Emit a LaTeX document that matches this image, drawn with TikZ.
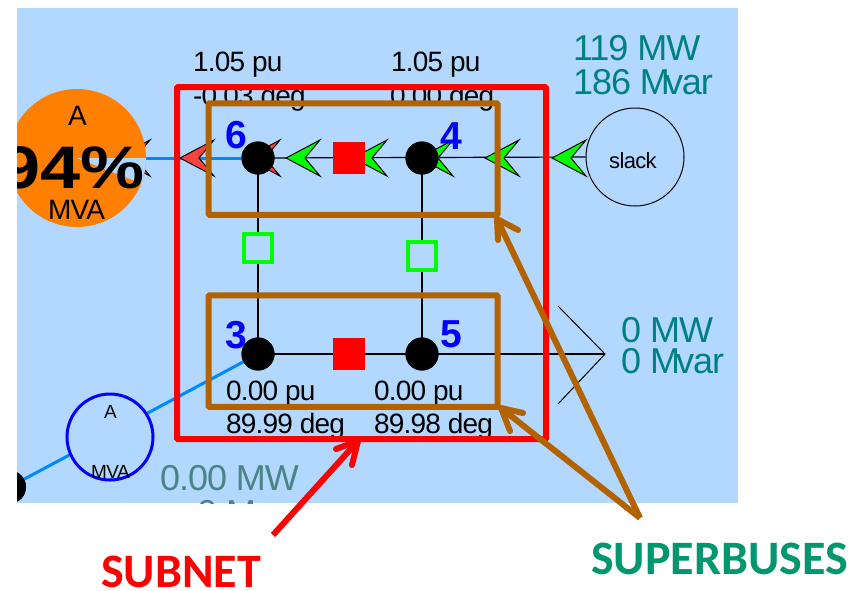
\documentclass[tikz,border=0pt]{standalone}
\usepackage{graphicx}
\usepackage{fontspec}
\setmainfont{Liberation Sans}
\newfontfamily\calib{Carlito}
\newfontfamily\tightf[LetterSpace=-3]{Liberation Sans}
\usetikzlibrary{calc}
\definecolor{bgblue}{RGB}{178,216,255}
\definecolor{linkblue}{RGB}{0,136,255}
\definecolor{brownbox}{RGB}{179,98,0}
\definecolor{tealtxt}{RGB}{0,128,128}
\definecolor{fadetxt}{RGB}{74,132,132}
\definecolor{supergreen}{RGB}{0,150,110}
\definecolor{orangeload}{RGB}{255,128,0}
\definecolor{chevred}{RGB}{255,64,64}
\newcommand{\fs}[1]{\fontsize{#1}{#1}\selectfont}
\newcommand{\chev}[3]{\draw[line width=1pt,fill=#3,miter limit=10] (#1,#2) -- ++(34,-18) -- ++(-15,18) -- ++(15,18) -- cycle;}
\tikzset{
  txt/.style={inner sep=0pt,anchor=base west,text=black,font=\fs{#1}},
  tighttxt/.style={inner sep=0pt,anchor=base west,text=black,font=\tightf\fs{#1}},
  teal/.style={inner sep=0pt,anchor=base west,text=tealtxt,font=\tightf\fs{36}},
  fade/.style={inner sep=0pt,anchor=base west,text=fadetxt,font=\tightf\fs{36}},
  num/.style={inner sep=0pt,anchor=base west,text=blue,font=\fs{39}\bfseries},
  busdot/.style={circle,fill=black,inner sep=0pt,minimum size=33pt},
  link/.style={draw=black,line width=1.2pt},
  flowlink/.style={draw=linkblue,line width=3pt},
  rsq/.style={fill=red,inner sep=0pt,minimum width=32pt,minimum height=32pt},
  gsq/.style={draw=green,line width=4.5pt,fill=bgblue,inner sep=0pt,minimum size=28pt},
  boxred/.style={draw=red,line width=6pt,rounded corners=1pt},
  boxbrown/.style={draw=brownbox,line width=6pt,rounded corners=1pt},
  callout/.style={line width=6pt,line cap=round,line join=round},
}
\begin{document}
\begin{tikzpicture}[x=1pt,y=-1pt]
\useasboundingbox (0,0) rectangle (858,590);
\fill[bgblue] (17,8) rectangle (738,503);
\begin{scope}
\clip (17,8) rectangle (738,503);
\node[busdot] (b0) at (9.5,487) {};
\node[busdot] (b3) at (258,354) {};
\node[busdot] (b5) at (422,354) {};
\node[busdot] (b6) at (258,158) {};
\node[busdot] (b4) at (422,158) {};
\node[draw=black,line width=1pt,circle,fill=bgblue,minimum size=98pt,inner sep=0pt] (slack) at (635,157) {};
\coordinate (loadtip) at (605,354);
\coordinate (loadtop) at (558,306);
\coordinate (loadbot) at (558,404);
\coordinate (gen) at (77,158);
\coordinate (genedge) at (146,158);
\draw[flowlink] (b0.center) -- (b3.center);
\draw[flowlink] (genedge) -- (b6.center);
\draw[link] (b6.center) -- (slack.west);
\draw[link] (b3.center) -- (loadtip);
\draw[link] (b6.center) -- (b3.center);
\draw[link] (b4.center) -- (b5.center);
\draw[line width=1pt] (loadtop) -- (loadtip) -- (loadbot);
% chevrons
\chev{116}{158}{chevred}
\chev{180}{158}{chevred}
\chev{246}{158}{chevred}
\chev{286}{158}{green}
\chev{353}{158}{green}
\chev{419}{158}{green}
\chev{485}{158}{green}
\chev{552}{158}{green}
% orange loading circle with 6 % wedge
\fill[orangeload] (gen) circle[radius=69];
\fill[bgblue] (gen) -- (genedge) arc[start angle=0,delta angle=21.6,radius=69] -- cycle;
% bus dots on top
\node[busdot] at (b0) {};
\node[busdot] at (b3) {};
\node[busdot] at (b5) {};
\node[busdot] at (b6) {};
\node[busdot] at (b4) {};
% squares
\node[rsq] (s1) at (349,158) {};
\node[rsq] (s2) at (349,354) {};
\node[gsq] (g1) at (258,248) {};
\node[gsq] (g2) at (422,256) {};
% lower-left circle
\node[draw=blue,line width=3pt,circle,fill=bgblue,minimum size=86pt,inner sep=0pt] (lc) at (110,437) {};
% texts
\node[tighttxt=28] (t1) at (193,71) {1.05 pu};
\node[tighttxt=28] (t2) at (391,71) {1.05 pu};
\node[tighttxt=28] (t3) at (193,105) {-0.03 deg};
\node[tighttxt=28] (t4) at (390,105) {0.00 deg};
\node[tighttxt=28] (t5) at (226,400) {0.00 pu};
\node[tighttxt=28] (t6) at (374,400) {0.00 pu};
\node[tighttxt=28] (t7) at (226,433) {89.99 deg};
\node[tighttxt=28] (t8) at (374,433) {89.98 deg};
\node[teal] (t9) at (573,60) {119 MW};
\node[teal] (t10) at (573,94) {186 M\kern-5pt var};
\node[teal] (t11) at (621,342) {0 MW};
\node[teal] (t12) at (621,373) {0 M\kern-4pt var};
\node[fade] (t13) at (160,490) {0.00 MW};
\node[fade] (t14) at (197,525) {0 M\kern-4pt var};
\node[txt=28] (t15) at (68,125) {A};
\node[tighttxt=28] (t16) at (48,219) {MVA};
\node[txt=60,font=\fs{60}\bfseries] (t17) at (0,188) {\scalebox{1.2}[1]{94\%}};
\node[txt=19] (t18) at (104,418) {A};
\node[tighttxt=19] (t19) at (91,478) {MVA};
\node[tighttxt=22] (t20) at (609,168) {slack};
\node[num] (n6) at (225,148) {6};
\node[num] (n4) at (440,149) {4};
\node[num] (n3) at (225,348) {3};
\node[num] (n5) at (440,347) {5};
\end{scope}
% overlay boxes
\node[boxred,inner sep=0pt,minimum width=369pt,minimum height=352pt] (subnet) at (361.5,263) {};
\node[boxbrown,inner sep=0pt,minimum width=289pt,minimum height=111.5pt] (sb1) at (353,159) {};
\node[boxbrown,inner sep=0pt,minimum width=289pt,minimum height=111.5pt] (sb2) at (353,351) {};
% callouts
\coordinate (sbsrc) at (640,518);
\coordinate (subsrc) at (273,535);
\coordinate (sb1tip) at (497,219);
\coordinate (sb2tip) at (501,408);
\coordinate (subtip) at (358,441);
\draw[brownbox,callout,line cap=butt] (sbsrc) -- (sb1tip);
\draw[brownbox,callout,line cap=butt] (sbsrc) -- (sb2tip);
\draw[brownbox,callout] (498,240) -- (sb1tip) -- (518,230);
\draw[brownbox,callout] (510,431) -- (sb2tip) -- (523,413);
\draw[red,callout,line cap=butt] (subsrc) -- (subtip);
\draw[red,callout] (336,449) -- (subtip) -- (352,465);
\node[inner sep=0pt,anchor=base west,text=red,font=\calib\fs{48}\bfseries] (lab1) at (101,587) {SUBNET};
\node[inner sep=0pt,anchor=base west,text=supergreen,font=\calib\fs{48}\bfseries] (lab2) at (591,574) {SUPERBUSES};
\end{tikzpicture}
\end{document}
